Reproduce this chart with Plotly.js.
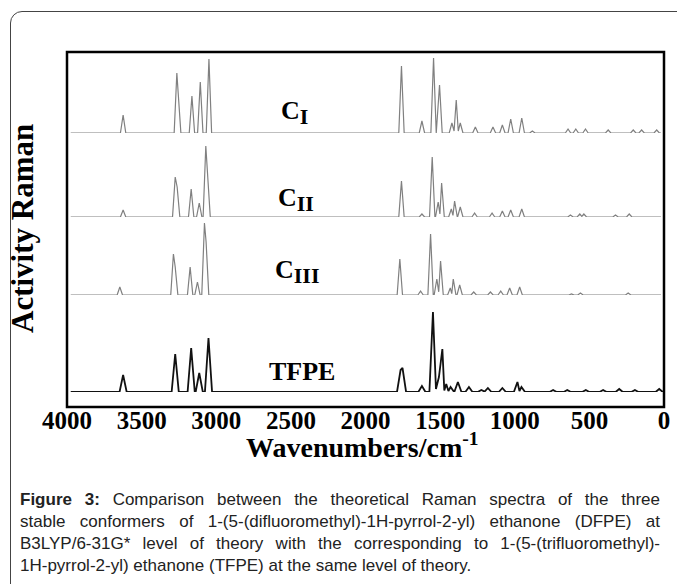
<!DOCTYPE html>
<html>
<head>
<meta charset="utf-8">
<script src="https://cdn.plot.ly/plotly-3.0.1.min.js"></script>
<style>
  html, body { margin: 0; padding: 0; background: #fff; }
  #wrap { position: relative; width: 677px; height: 584px; overflow: hidden; background: #fff; }
  #frame { position: absolute; left: 10px; top: 11px; width: 700px; height: 620px;
           border: 1.5px solid #444; border-radius: 12px; box-sizing: border-box; }
  #chart { position: absolute; left: 0; top: 0; width: 677px; height: 584px; }
  #caption { position: absolute; left: 20px; top: 489px; width: 640px;
             font-family: "Liberation Sans", Arial, sans-serif; font-size: 17px; line-height: 22px; color: #222; }
  #caption .ln { text-align: justify; text-align-last: justify; white-space: nowrap; }
  #caption .last { text-align: left; text-align-last: left; }
</style>
</head>
<body>
<div id="wrap">
  <div id="frame"></div>
  <div id="chart"></div>
  <div id="caption">
    <div class="ln"><b>Figure 3:</b> Comparison between the theoretical Raman spectra of the three</div>
    <div class="ln">stable conformers of 1-(5-(difluoromethyl)-1H-pyrrol-2-yl) ethanone (DFPE) at</div>
    <div class="ln">B3LYP/6-31G* level of theory with the corresponding to 1-(5-(trifluoromethyl)-</div>
    <div class="ln last">1H-pyrrol-2-yl) ethanone (TFPE) at the same level of theory.</div>
  </div>
</div>
<script>
// Peak positions (cm-1) and relative Raman activities
const ciWn   = [3624, 3264, 3255, 3163, 3107, 3049, 1759, 1622, 1544, 1504, 1421, 1392, 1365, 1264, 1146, 1083, 1027, 953, 882, 643, 591, 526, 374, 206, 150, 49];
const ciInt  = [18, 60, 40, 37, 51, 74, 67, 12, 75, 48, 10, 33, 10, 6, 6, 8, 14, 15, 2, 4, 4, 4, 3, 3, 3, 3];

const ciiWn  = [3624, 3275, 3262, 3168, 3114, 3070, 3058, 1759, 1622, 1553, 1513, 1490, 1425, 1403, 1365, 1269, 1152, 1083, 1027, 953, 627, 564, 537, 325, 233];
const ciiInt = [7, 40, 30, 28, 14, 71, 50, 36, 3, 60, 15, 34, 8, 16, 10, 4, 4, 6, 7, 8, 2, 3, 3, 2, 3];

const ciiiWn  = [3646, 3287, 3275, 3175, 3126, 3079, 3068, 1770, 1631, 1564, 1522, 1497, 1432, 1412, 1369, 1275, 1163, 1094, 1034, 967, 620, 560, 240];
const ciiiInt = [8, 41, 28, 28, 13, 72, 53, 36, 4, 61, 16, 34, 7, 16, 10, 3, 3, 4, 7, 8, 1, 2, 2];

const tfpeWn  = [3624, 3275, 3168, 3114, 3052, 1765, 1752, 1622, 1548, 1508, 1485, 1459, 1430, 1381, 1307, 1224, 1180, 1083, 982, 955, 743, 648, 524, 408, 300, 195, 32];
const tfpeInt = [17, 38, 44, 19, 54, 22, 24, 6, 80, 15, 43, 8, 5, 10, 5, 2, 4, 4, 10, 5, 2, 2, 2, 2, 3, 2, 3];

const seriesLabels = ["C<sub><span style='font-size:22px'>I</span></sub>",
                      "C<sub><span style='font-size:22px'>II</span></sub>",
                      "C<sub><span style='font-size:22px'>III</span></sub>",
                      "TFPE"];
const xTicks = [4000, 3500, 3000, 2500, 2000, 1500, 1000, 500, 0];

// build stick-like peak traces from the peak tables
function stickPath(wn, inten, w) {
  const idx = wn.map((_, i) => i).sort((a, b) => wn[a] - wn[b]);
  const xs = [20], ys = [0];
  let prev = null, prevH = 0;
  idx.forEach(i => {
    const c = wn[i], h = inten[i];
    if (prev === null) {
      xs.push(c - w); ys.push(0);
    } else if (c - prev >= 2 * w) {
      xs.push(prev + w); ys.push(0);
      xs.push(c - w); ys.push(0);
    } else if (c - prev >= w) {
      xs.push((c + prev) / 2); ys.push(0.2 * Math.min(h, prevH));
    }
    xs.push(c); ys.push(h);
    prev = c; prevH = h;
  });
  xs.push(prev + w); ys.push(0);
  xs.push(3975); ys.push(0);
  return {x: xs, y: ys};
}

const L = 67, R = 664, T = 52, B = 407;
const PW = R - L, PH = B - T;
const px = v => (v - L) / PW;
const py = v => (B - v) / PH;

const specs = [
  {wn: ciWn,   it: ciInt,   w: 18, axis: 'y',  color: '#808080', lw: 1.2},
  {wn: ciiWn,  it: ciiInt,  w: 18, axis: 'y2', color: '#808080', lw: 1.2},
  {wn: ciiiWn, it: ciiiInt, w: 18, axis: 'y3', color: '#808080', lw: 1.2},
  {wn: tfpeWn, it: tfpeInt, w: 24, axis: 'y4', color: '#111111', lw: 1.8}
];

const traces = specs.map((s, k) => {
  const p = stickPath(s.wn, s.it, s.w);
  return {x: p.x, y: p.y, type: 'scatter', mode: 'lines', yaxis: s.axis,
          line: {color: s.color, width: s.lw}, hoverinfo: 'skip', showlegend: false};
});

const baseY = [133, 217, 295, 392];
const spans = [81, 80, 77, 90];
function yax(k) {
  const b = (B - baseY[k]) / PH;
  const t = Math.min(1, b + spans[k] / PH);
  return {domain: [b, t], range: [0, spans[k]], visible: false, fixedrange: true};
}

const serif = '"Liberation Serif", "Times New Roman", serif';
const labelFont = {family: serif, size: 26, color: '#000', weight: 'bold'};
const labelPos = [[294, 112], [296, 199], [297, 271], [302, 371]];

const annotations = seriesLabels.map((t, k) => ({
  text: t, xref: 'paper', yref: 'paper', x: px(labelPos[k][0]), y: py(labelPos[k][1]),
  xanchor: 'center', yanchor: 'middle', showarrow: false, font: labelFont
}));
annotations.push({
  text: 'Wavenumbers/cm<sup>-1</sup>', xref: 'paper', yref: 'paper', x: px(362), y: py(445),
  xanchor: 'center', yanchor: 'middle', showarrow: false,
  font: {family: serif, size: 28, color: '#000', weight: 'bold'}
});
annotations.push({
  text: 'Activity Raman', xref: 'paper', yref: 'paper', x: px(22), y: py(229),
  xanchor: 'center', yanchor: 'middle', showarrow: false, textangle: -90,
  font: {family: serif, size: 31, color: '#000', weight: 'bold'}
});

const layout = {
  width: 677, height: 584,
  margin: {l: L, r: 677 - R, t: T, b: 584 - B, pad: 0},
  paper_bgcolor: 'rgba(0,0,0,0)', plot_bgcolor: 'rgba(0,0,0,0)',
  showlegend: false,
  xaxis: {range: [4000, 0], tickvals: xTicks, ticktext: xTicks.map(String), ticks: '',
          anchor: 'free', position: 0.01,
          showgrid: false, zeroline: false, showline: false, fixedrange: true,
          tickfont: {family: serif, size: 25, color: '#000', weight: 'bold'}},
  yaxis: yax(0), yaxis2: yax(1), yaxis3: yax(2), yaxis4: yax(3),
  shapes: [{type: 'rect', xref: 'paper', yref: 'paper', x0: 0, x1: 1, y0: 0, y1: 1,
            line: {color: '#000', width: 2.5}}],
  annotations: annotations
};

Plotly.newPlot('chart', traces, layout, {displayModeBar: false, staticPlot: true});
</script>
</body>
</html>
